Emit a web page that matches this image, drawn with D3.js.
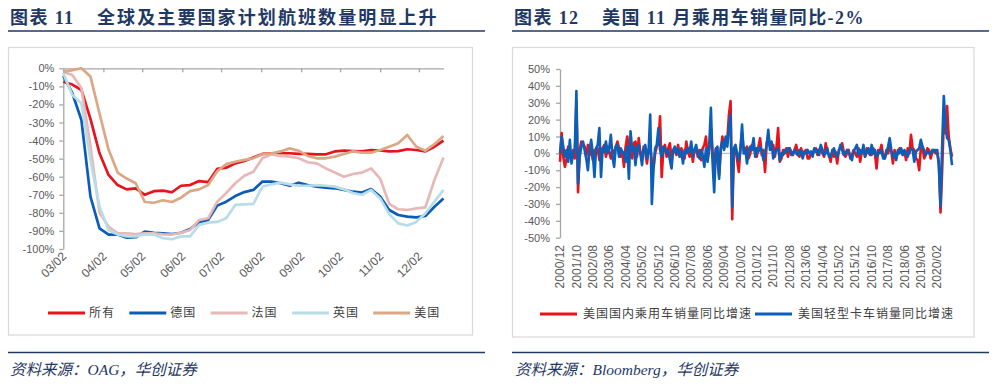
<!DOCTYPE html>
<html lang="zh">
<head>
<meta charset="utf-8">
<title>航班与乘用车销量</title>
<script src="https://d3js.org/d3.v7.min.js"></script>
<style>
  body { margin: 0; background: #fff; }
  svg text { font-family: "Liberation Sans", Arial, "Noto Sans CJK SC", sans-serif; }
  .ttl { font-family: "Liberation Serif", "Noto Sans CJK SC", serif !important; font-weight: bold; font-size: 18px; fill: #1f3864; letter-spacing: 1.4px; }
  .src { font-family: "Liberation Serif", "Noto Sans CJK SC", serif !important; font-style: italic; font-size: 15.5px; fill: #1f3864; }
  .ax text { fill: #595959; font-size: 11px; }
  .ax path, .ax line { stroke: #a6a6a6; stroke-width: 1.3; }
  .lg { font-family: "Noto Sans CJK SC", sans-serif !important; font-size: 12px; fill: #404040; letter-spacing: 1px; }
</style>
</head>
<body>
<div id="chart"></div>
<script>
// ---------- 图表11 data (weekly, yoy %) ----------
const flightStart = "2020/03/02";
const flightTicks = ["03/02", "04/02", "05/02", "06/02", "07/02", "08/02", "09/02", "10/02", "11/02", "12/02"];
const flightNames = ["所有", "德国", "法国", "英国", "美国"];
const flightColors = ["#e8141c", "#0b5cb8", "#e8b8b6", "#b8dde9", "#dca784"];

const allFlights = [-7.4, -9, -12, -28, -47, -59, -64.6, -67, -66.4, -70, -68, -67.7, -68.6, -65, -64.6, -62.4, -63, -55.7, -55, -52.6,
  -51.3, -49.3, -47.4, -47, -47, -47, -47.4, -47.4, -47.6, -47.6, -46, -45.6, -45.8, -46, -45.2, -45.5, -46, -45.8, -44.8, -45.2, -46, -43.4, -40];
const germany = [-4.2, -13.8, -28.6, -71, -88.6, -92, -92, -93.7, -93.5, -90.4, -91, -91.3, -91.7, -91, -89, -85, -84, -76, -73.8, -70.7,
  -68.5, -67.3, -62.7, -62.7, -63.6, -65, -63.3, -64.6, -65.5, -66, -66.4, -67.3, -68.3, -68.8, -66.8, -71, -78.4, -81.2, -82.1, -82.5, -81.7, -76.6, -72];
const france = [-2, -3.7, -11, -43, -80, -87.6, -91.3, -91.3, -91.7, -91.3, -91.3, -91.9, -92, -91, -89.5, -84, -83, -73.8, -69, -63.6,
  -59.5, -57.2, -49.8, -47.6, -48.5, -48.9, -49.8, -52, -52.6, -55.4, -57.7, -60, -58.5, -57.7, -55.4, -61, -75, -78, -78.4, -77.5, -77, -61.8, -49.3];
const uk = [-2.8, -14.8, -19.4, -50.7, -76.6, -89.5, -92, -93, -93, -92, -92, -94, -94.6, -93, -93, -86.7, -85.4, -85, -83, -75.6,
  -75.3, -75, -65.5, -64.2, -63.3, -64.2, -65, -65, -64.6, -65, -65.5, -67, -69, -70, -67.3, -72, -80.6, -85.8, -87, -85, -80.2, -73.8, -67.3];
const us = [-2, -1, 0, -4.6, -25, -45, -57.7, -61, -63.6, -74, -74.4, -73, -74, -71.6, -68, -67, -64.6, -57, -53, -51.7,
  -50.7, -49.8, -47.6, -47, -46, -44.3, -45.6, -48.5, -49.8, -49.8, -48.9, -47.4, -46, -46.7, -46.7, -45.2, -43.4, -41.5, -36.9, -43.4, -45.6, -42, -37.5];

// ---------- 图表12 data (monthly 2000/12 - 2020/11, yoy %) ----------
const salesTicks = ["2000/12", "2001/10", "2002/08", "2003/06", "2004/04", "2005/02", "2005/12", "2006/10", "2007/08", "2008/06",
  "2009/04", "2010/02", "2010/12", "2011/10", "2012/08", "2013/06", "2014/04", "2015/02", "2015/12", "2016/10",
  "2017/08", "2018/06", "2019/04", "2020/02"];
const salesNames = ["美国国内乘用车销量同比增速", "美国轻型卡车销量同比增速"];
const salesColors = ["#e8141c", "#0b5fb8"];

const paxCar = [
  -5, 12, -2, -8, -3, 4, -1, -4, 2, -3, 30, -23,
  2, 7, 6, 4, -2, 5, -1, 3, -4, 2, 0, 3,
  -4, 2, 3, 5, -2, 4, 1, -3, 2, 0, 4, 7,
  3, -2, 1, -8, 4, 10, 2, 5, -3, 6, 7, -2,
  9, 0, -3, 4, 1, -6, 2, 5, -5, -8, 0, 4,
  6, 22, -14, 2, 5, -2, 3, 6, -3, 1, 2, -1,
  5, -2, 3, 0, -3, 7, 1, -2, 4, -5, 2, 3,
  -2, 2, -4, 3, 5, 10, -3, 2, 15, 1, -10, 3,
  -5, -13, 2, 10, 3, 6, 8, 23, 31, -39, 2, 3,
  -4, -11, 3, 12, 2, 0, 4, -3, 0, 5, 2, 3,
  -2, 4, 9, -1, 2, -11, 6, 10, 4, 3, 5, -2,
  4, 15, -5, -3, 2, 0, 3, -2, 3, 1, -1, 2,
  5, 0, -2, 3, -1, 1, 2, -3, -3, 1, 0, 2,
  3, -1, 2, 4, 0, -2, 6, 1, -1, -5, 2, -2,
  1, -6, 2, 3, 6, 1, -2, 0, 2, -3, -1, 2,
  0, -2, 3, -5, 1, 2, -2, 3, 0, 2, -1, 3,
  0, -9, 2, 1, 5, -1, -3, 2, 0, 4, 1, -6,
  2, -2, 0, 3, 2, -1, 1, -4, 3, 0, 11, 3,
  2, -3, -4, -10, 3, 4, -3, -1, 3, 2, -3, 1,
  2, 0, 0, -5, -35, -10, 20, 12, 28, 10, 3, -2];
const lightTruck = [
  0, 10, 4, -2, 2, -5, 8, -6, 0, 2, 37, -18,
  -2, 4, 7, 2, -3, -10, 2, 8, 0, -14, 3, 5,
  15, -14, 3, 1, 7, 0, 3, 11, -2, -8, 4, 5,
  -2, 3, 1, 0, -5, 4, -15, 13, 2, 4, -7, 3,
  5, 0, -7, 2, 5, -3, 1, 23, -30, -10, 3, 5,
  15, 2, -2, 4, 3, 0, 2, -4, -9, 2, 4, 0,
  3, -2, 1, -6, 2, 0, 3, 1, 7, -2, 2, 5,
  0, -3, 2, -1, -8, 3, -5, 5, 27, -5, -23, 2,
  4, -15, 3, 7, 2, 10, 4, 15, 23, -32, 3, 5,
  0, -4, 2, 17, 0, 3, -6, 2, 4, 2, 9, -2,
  3, 1, 4, 2, -4, 0, 5, 14, 2, 7, -3, 1,
  2, 3, -4, 0, -1, 2, 1, 3, 3, -1, 0, 2,
  0, -1, 2, 1, -3, 1, 0, 2, 0, 1, -2, 3,
  1, 2, -1, 5, 2, -1, 0, 3, -2, -2, 1, 3,
  0, -2, 1, 5, 2, -1, 0, 2, 1, -2, -4, 1,
  3, 5, -1, 2, 0, 5, -2, 1, 3, -1, 5, 0,
  2, -2, 1, 0, 2, -3, -3, 0, 4, 9, 2, -2,
  0, -4, 2, 0, 3, -1, 2, 0, -2, 1, 3, 2,
  -5, 1, 2, 3, 8, 4, 2, -1, 1, 0, 0, 2,
  1, 2, 2, -8, -31, 5, 34, 18, 9, 8, 2, -7];

const svg = d3.select("#chart").append("svg")
  .attr("width", 995)
  .attr("height", 387);

// ---------- frames, titles, sources ----------
svg.append("text").attr("class", "ttl").attr("x", 10).attr("y", 24).text("图表 11");
svg.append("text").attr("class", "ttl").attr("x", 97).attr("y", 24)
  .style("letter-spacing", "2.1px")
  .text("全球及主要国家计划航班数量明显上升");
svg.append("text").attr("class", "ttl").attr("x", 514).attr("y", 24).text("图表 12");
svg.append("text").attr("class", "ttl").attr("x", 602).attr("y", 24).text("美国 11 月乘用车销量同比-2%");

[[8, 485], [512, 989]].forEach(([a, b]) => {
  svg.append("line").attr("x1", a).attr("x2", b).attr("y1", 31).attr("y2", 31)
    .attr("stroke", "#1f3864").attr("stroke-width", 1.5);
  svg.append("line").attr("x1", a).attr("x2", b).attr("y1", 352.5).attr("y2", 352.5)
    .attr("stroke", "#1f3864").attr("stroke-width", 1.5);
});
svg.append("rect").attr("x", 8.5).attr("y", 47.5).attr("width", 464).attr("height", 287.5)
  .attr("fill", "none").attr("stroke", "#d9d9d9").attr("stroke-width", 1.2);
svg.append("rect").attr("x", 512.5).attr("y", 47.5).attr("width", 461.5).attr("height", 289.5)
  .attr("fill", "none").attr("stroke", "#d9d9d9").attr("stroke-width", 1.2);

svg.append("text").attr("class", "src").attr("x", 10).attr("y", 375).text("资料来源：OAG，华创证券");
svg.append("text").attr("class", "src").attr("x", 515).attr("y", 375).text("资料来源：Bloomberg，华创证券");

// ---------- chart 11 ----------
const parseDay = d3.timeParse("%Y/%m/%d");
const start = parseDay(flightStart);
const weeks = allFlights.map((d, i) => d3.timeDay.offset(start, 7 * i));
const x1 = d3.scaleTime().domain([weeks[0], weeks[weeks.length - 1]]).range([63.3, 443.5]);
const y1 = d3.scaleLinear().domain([-100, 0]).range([249, 68.3]);

svg.append("g").attr("class", "ax")
  .attr("transform", "translate(63.3,0)")
  .call(d3.axisLeft(y1).tickValues(d3.range(-100, 1, 10)).tickSize(4).tickSizeOuter(0).tickPadding(5)
    .tickFormat(d => d + "%"));

const tickDates = flightTicks.map(t => parseDay("2020/" + t));
svg.append("g").attr("class", "ax")
  .attr("transform", `translate(0,${y1(0)})`)
  .call(d3.axisBottom(x1).tickValues(tickDates).tickSize(4).tickSizeOuter(0).tickFormat(""));

svg.append("g").selectAll("text")
  .data(flightTicks)
  .join("text")
    .attr("transform", (d, i) => `translate(${x1(tickDates[i]) + 4},257) rotate(-45)`)
    .attr("text-anchor", "end")
    .attr("fill", "#595959")
    .style("font-size", "12px")
    .text(d => d);

const flightSeries = [allFlights, germany, france, uk, us];
const line1 = d3.line().x((d, i) => x1(weeks[i])).y(d => y1(d));
svg.append("g").selectAll("path")
  .data(flightSeries)
  .join("path")
    .attr("fill", "none")
    .attr("stroke", (d, i) => flightColors[i])
    .attr("stroke-width", 2.7)
    .attr("stroke-linejoin", "round")
    .attr("d", line1);

const lg1 = svg.append("g").selectAll("g")
  .data(flightNames)
  .join("g")
    .attr("transform", (d, i) => `translate(${48 + i * 81.3},313)`);
lg1.append("line").attr("x1", 0).attr("x2", 37)
  .attr("stroke", (d, i) => flightColors[i]).attr("stroke-width", 3);
lg1.append("text").attr("class", "lg").attr("x", 41).attr("dy", "0.35em").text(d => d);

// ---------- chart 12 ----------
const x2 = d3.scaleLinear().domain([0, paxCar.length - 1]).range([560, 952]);
const y2 = d3.scaleLinear().domain([-50, 50]).range([237.7, 69]);

svg.append("g").attr("class", "ax")
  .attr("transform", "translate(560,0)")
  .call(d3.axisLeft(y2).tickValues(d3.range(-50, 51, 10)).tickSize(4).tickSizeOuter(0).tickPadding(6)
    .tickFormat(d => d + "%"));

svg.append("line")
  .attr("x1", 560).attr("x2", 953)
  .attr("y1", y2(0)).attr("y2", y2(0))
  .attr("stroke", "#bfbfbf").attr("stroke-width", 1.3);

svg.append("g").selectAll("text")
  .data(salesTicks)
  .join("text")
    .attr("transform", (d, i) => `translate(${x2(i * 10)},245) rotate(-90)`)
    .attr("text-anchor", "end")
    .attr("dy", "0.35em")
    .attr("fill", "#595959")
    .style("font-size", "12px")
    .text(d => d);

const line2 = d3.line().x((d, i) => x2(i)).y(d => y2(d));
svg.append("g").selectAll("path")
  .data([paxCar, lightTruck])
  .join("path")
    .attr("fill", "none")
    .attr("stroke", (d, i) => salesColors[i])
    .attr("stroke-width", 2.6)
    .attr("stroke-linejoin", "round")
    .attr("d", line2);

const lg2 = svg.append("g").selectAll("g")
  .data(salesNames)
  .join("g")
    .attr("transform", (d, i) => `translate(${540 + i * 215},314)`);
lg2.append("line").attr("x1", 0).attr("x2", 37)
  .attr("stroke", (d, i) => salesColors[i]).attr("stroke-width", 3);
lg2.append("text").attr("class", "lg").attr("x", 43).attr("dy", "0.35em").text(d => d);
</script>
</body>
</html>
